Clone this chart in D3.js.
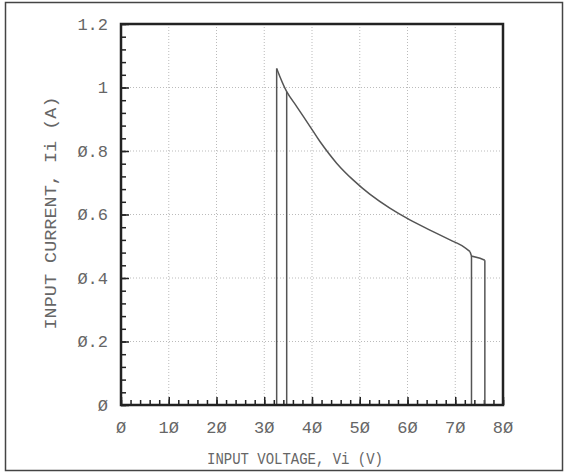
<!DOCTYPE html>
<html><head><meta charset="utf-8">
<script src="https://cdn.jsdelivr.net/npm/d3@7"></script>
<style>body{margin:0;background:#fff}svg{display:block}</style>
</head><body>
<script>
// ---- data ----
const xTicks = [0,10,20,30,40,50,60,70,80];
const yTicks = [0,0.2,0.4,0.6,0.8,1,1.2];
const yTickLabels = ["Ø","Ø.2","Ø.4","Ø.6","Ø.8","1","1.2"];
const xTickLabels = ["Ø","1Ø","2Ø","3Ø","4Ø","5Ø","6Ø","7Ø","8Ø"];
const curveV = [32.6,34.7,36.8,39.6,41.7,45.2,48.6,52.1,56.3,60.5,64.7,68.9,71.7,73.1];
const curveI = [1.06,0.987,0.94,0.877,0.829,0.761,0.709,0.664,0.620,0.583,0.551,0.520,0.499,0.483];
const tailV = [73.1,73.4,75.2,76.2];
const tailI = [0.483,0.469,0.462,0.456];
const dropV = [32.6,34.7,73.4,76.2];
const dropI = [1.06,0.987,0.469,0.456];
const xTitle = "INPUT VOLTAGE, Vi (V)";
const yTitle = "INPUT CURRENT, Ii (A)";

const W=566,H=473;
const m={l:121,r:503,t:24,b:405};
const svg=d3.select("body").append("svg").attr("width",W).attr("height",H);
svg.append("rect").attr("x",5.5).attr("y",2.5).attr("width",557).attr("height",468)
  .attr("fill","none").attr("stroke","#444").attr("stroke-width",1.5);

const x=d3.scaleLinear().domain([0,80]).range([m.l,m.r]);
const y=d3.scaleLinear().domain([0,1.2]).range([m.b,m.t]);

// grid
const g=svg.append("g");
g.selectAll(".gx").data(xTicks.slice(1,-1)).join("line")
  .attr("x1",d=>x(d)).attr("x2",d=>x(d)).attr("y1",m.t).attr("y2",m.b)
  .attr("stroke","#bbb").attr("stroke-width",1).attr("stroke-dasharray","1,2");
g.selectAll(".gy").data(yTicks.slice(1,-1)).join("line")
  .attr("y1",d=>y(d)).attr("y2",d=>y(d)).attr("x1",m.l).attr("x2",m.r)
  .attr("stroke","#bbb").attr("stroke-width",1).attr("stroke-dasharray","1,2");

// minor/major ticks inward
function ticks(axis, tr){
  svg.append("g").attr("transform",tr).call(axis)
    .call(s=>{s.select(".domain").remove();s.selectAll("line").attr("stroke","#222").attr("stroke-width",1.5);});
}
ticks(d3.axisBottom(x).tickValues(d3.range(0,81,2)).tickSize(-5).tickFormat(""),`translate(0,${m.b})`);
ticks(d3.axisBottom(x).tickValues(xTicks).tickSize(-8).tickFormat(""),`translate(0,${m.b})`);
ticks(d3.axisLeft(y).tickValues(d3.range(0,31).map(i=>i*0.04)).tickSize(-5).tickFormat(""),`translate(${m.l},0)`);
ticks(d3.axisLeft(y).tickValues(yTicks).tickSize(-8).tickFormat(""),`translate(${m.l},0)`);

// tick labels
const font="'Liberation Mono', 'DejaVu Sans Mono', monospace";
svg.selectAll(".xl").data(xTicks).join("text")
  .attr("x",d=>x(d)).attr("y",433).attr("text-anchor","middle")
  .attr("font-family",font).attr("font-size",17).attr("fill","#666")
  .text((d,i)=>xTickLabels[i]);
svg.selectAll(".yl").data(yTicks).join("text")
  .attr("x",108).attr("y",d=>y(d)).attr("dy","0.35em").attr("text-anchor","end")
  .attr("font-family",font).attr("font-size",17).attr("fill","#666")
  .text((d,i)=>yTickLabels[i]);

// titles
svg.append("text").attr("x",295).attr("y",464).attr("text-anchor","middle")
  .attr("font-family",font).attr("font-size",16).attr("fill","#666")
  .attr("textLength",176).attr("lengthAdjust","spacingAndGlyphs").text(xTitle);
svg.append("text").attr("transform","translate(56,213) rotate(-90)").attr("text-anchor","middle")
  .attr("font-family",font).attr("font-size",17).attr("fill","#666")
  .attr("textLength",233).attr("lengthAdjust","spacingAndGlyphs").text(yTitle);

// curve
svg.append("path").datum(curveV.map((v,i)=>[v,curveI[i]]))
  .attr("d",d3.line().x(d=>x(d[0])).y(d=>y(d[1])).curve(d3.curveCatmullRom.alpha(0.5)))
  .attr("fill","none").attr("stroke","#555").attr("stroke-width",1.5);
svg.append("path").datum(tailV.map((v,i)=>[v,tailI[i]]))
  .attr("d",d3.line().x(d=>x(d[0])).y(d=>y(d[1])))
  .attr("fill","none").attr("stroke","#555").attr("stroke-width",1.5);
svg.selectAll(".drop").data(dropV).join("line")
  .attr("x1",d=>x(d)).attr("x2",d=>x(d)).attr("y1",(d,i)=>y(dropI[i])).attr("y2",y(0))
  .attr("stroke","#555").attr("stroke-width",1.5);

// frame
svg.append("rect").attr("x",m.l).attr("y",m.t).attr("width",m.r-m.l).attr("height",m.b-m.t)
  .attr("fill","none").attr("stroke","#222").attr("stroke-width",2.5);
</script>
</body></html>
